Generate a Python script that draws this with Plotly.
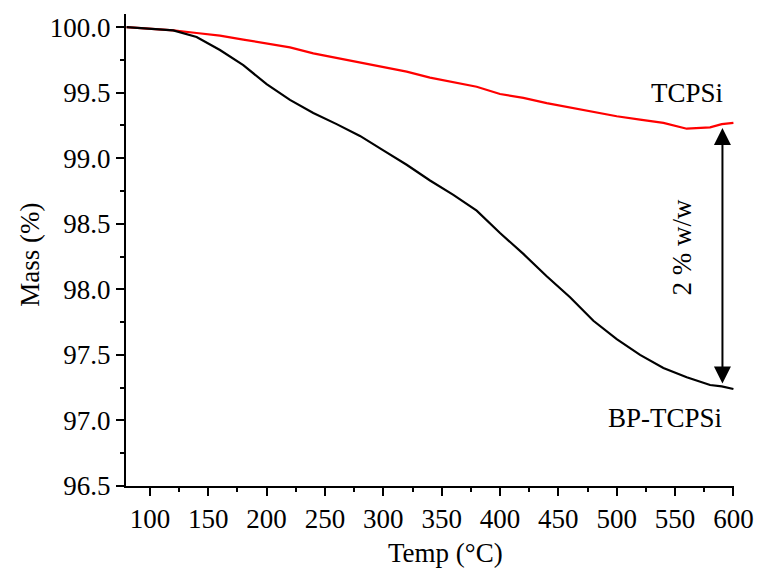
import plotly.graph_objects as go

temp = [80, 100, 120, 140, 160, 180, 200, 220, 240, 260, 280, 300, 320, 340,
        360, 380, 400, 420, 440, 460, 480, 500, 520, 540, 560, 580, 590, 600]
tcpsi = [100.00, 99.99, 99.975, 99.955, 99.935, 99.905, 99.875, 99.845, 99.80,
         99.765, 99.73, 99.70, 99.66, 99.615, 99.58, 99.545, 99.49, 99.46, 99.42,
         99.385, 99.35, 99.32, 99.295, 99.27, 99.225, 99.235, 99.26, 99.27]
bp_tcpsi = [100.00, 99.99, 99.975, 99.925, 99.825, 99.71, 99.565, 99.445, 99.345,
            99.26, 99.17, 99.06, 98.95, 98.83, 98.72, 98.60, 98.43, 98.27, 98.10,
            97.94, 97.76, 97.62, 97.50, 97.40, 97.33, 97.27, 97.26, 97.24]

x_ticks = [100, 150, 200, 250, 300, 350, 400, 450, 500, 550, 600]
y_ticks = [96.5, 97.0, 97.5, 98.0, 98.5, 99.0, 99.5, 100.0]

FONT = "Times New Roman"
FS = 27

fig = go.Figure()
fig.add_trace(go.Scatter(x=temp, y=tcpsi, mode="lines", name="TCPSi",
                         line=dict(color="#ff0000", width=2.2)))
fig.add_trace(go.Scatter(x=temp, y=bp_tcpsi, mode="lines", name="BP-TCPSi",
                         line=dict(color="#000000", width=2.2)))

fig.add_annotation(x=560, y=99.50, text="TCPSi", showarrow=False,
                   font=dict(family=FONT, size=FS, color="black"))
fig.add_annotation(x=541, y=97.02, text="BP-TCPSi", showarrow=False,
                   font=dict(family=FONT, size=FS, color="black"))
fig.add_annotation(x=556, y=98.32, text="2 % w/w", showarrow=False, textangle=-90,
                   font=dict(family=FONT, size=FS, color="black"))
fig.add_annotation(x=590.6, y=99.23, ax=590.6, ay=97.27, xref="x", yref="y",
                   axref="x", ayref="y", text="", showarrow=True,
                   arrowhead=2, startarrowhead=2, arrowside="end+start",
                   arrowsize=1.7, startarrowsize=1.7, arrowwidth=2,
                   arrowcolor="black", standoff=0, startstandoff=0)

# axis titles
fig.add_annotation(x=0.525, y=-0.142, xref="paper", yref="paper", text="Temp (°C)",
                   showarrow=False, xanchor="center", yanchor="middle",
                   font=dict(family=FONT, size=FS, color="black"))
fig.add_annotation(x=-0.158, y=0.49, xref="paper", yref="paper", text="Mass (%)",
                   showarrow=False, xanchor="center", yanchor="middle", textangle=-90,
                   font=dict(family=FONT, size=FS, color="black"))

fig.update_layout(
    width=758, height=572,
    margin=dict(l=126, r=24, t=14, b=86),
    paper_bgcolor="white", plot_bgcolor="white",
    showlegend=False,
    font=dict(family=FONT, size=FS, color="black"),
)
fig.update_xaxes(
    range=[79.5, 600.5], tickvals=x_ticks, ticks="outside", ticklen=8, tickwidth=1.5,
    tickcolor="black", showline=True, linecolor="black", linewidth=2,
    showgrid=False, zeroline=False, mirror=False, ticklabeloverflow="allow",
    automargin=False,
    minor=dict(dtick=25, tick0=75, ticks="outside", ticklen=4, tickwidth=1.5, tickcolor="black", showgrid=False),
    tickfont=dict(family=FONT, size=FS),
)
fig.update_yaxes(
    range=[96.5, 100.1], tickvals=y_ticks, tickformat=".1f", ticks="outside", ticklen=8,
    tickwidth=1.5, tickcolor="black", showline=True, linecolor="black", linewidth=2,
    showgrid=False, zeroline=False, mirror=False, ticklabeloverflow="allow",
    automargin=False,
    minor=dict(dtick=0.25, tick0=96.5, ticks="outside", ticklen=4, tickwidth=1.5, tickcolor="black", showgrid=False),
    tickfont=dict(family=FONT, size=FS),
)

fig.write_html("out.html", config={"displayModeBar": False},
               post_script="document.body.style.margin='0';document.body.style.overflow='hidden';")
